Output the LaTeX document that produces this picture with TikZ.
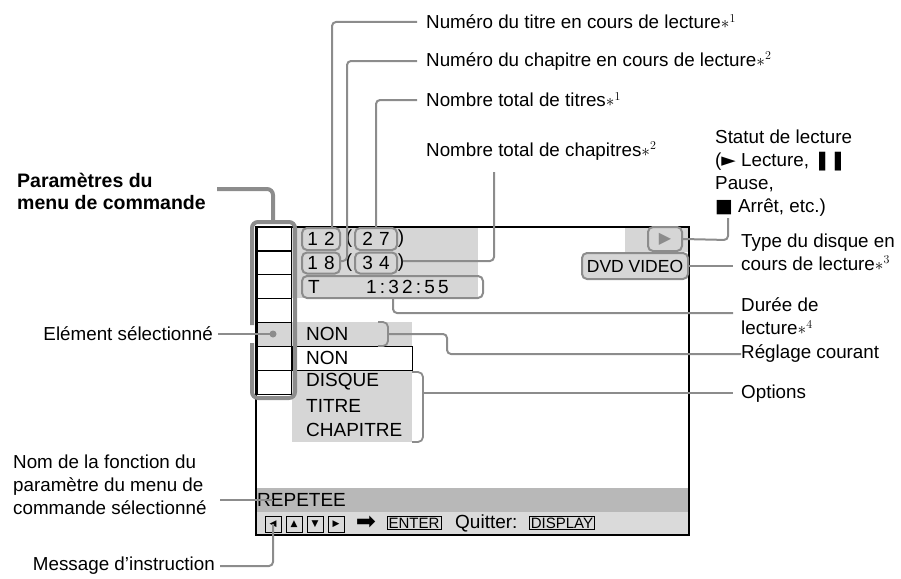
\documentclass[tikz,border=0pt]{standalone}
\usepackage{fontspec}
\setmainfont{Liberation Sans}
\newfontfamily\dejavu{DejaVu Sans}
\begin{document}
\begin{tikzpicture}[x=1pt,y=-1pt,
  lbl/.style={font=\fontsize{18.8}{23}\selectfont,inner sep=0pt},
  scr/.style={font=\fontsize{19}{22}\selectfont,inner sep=0pt},
  conn/.style={draw=lg,line width=2pt,rounded corners=4pt},
  gbox/.style={draw=lg,line width=2pt,rounded corners=5pt,inner sep=0pt},
  kbox/.style={draw=black,line width=0.8pt,inner sep=1.5pt,font=\fontsize{15}{16}\selectfont}]
\definecolor{lg}{HTML}{8C8C8C}
\definecolor{fillg}{HTML}{D6D6D6}
\definecolor{bard}{HTML}{B8B8B8}
\definecolor{barl}{HTML}{DADADA}
\useasboundingbox (0,0) rectangle (901,578);
% screen fills
\fill[fillg] (292,227) rectangle (478,298);
\fill[fillg] (625,227) rectangle (688,252);
\fill[fillg] (258,322) rectangle (412,346);
\fill[fillg] (292,370) rectangle (412,442);
\fill[bard] (257,488) rectangle (689,512);
\fill[barl] (257,512) rectangle (689,535);
\draw[black,line width=0.9pt] (292,346) rectangle (412,370);
% menu column
\foreach \y in {227,250,274,298,322,346,370}{\draw[black,line width=0.8pt] (257,\y) rectangle (291,\y+24);}
\fill[fillg] (258,323) rectangle (290.5,345.5);
\fill[lg] (273,334) circle (3.5pt);
\node[circle,inner sep=0pt,minimum size=1pt] (dot) at (273,334) {};
% screen border
\draw[black,line width=1.6pt] (256,227) -- (689,227) -- (689,535) -- (256,535) -- cycle;
% bracket
\draw[lg,line width=4pt,rounded corners=6pt] (252,325) -- (252,222) -- (295,222) -- (295,398) -- (252,398) -- (252,343);
\coordinate (brtop) at (273,222);
% numbers
\node[gbox,scr,minimum width=38pt,minimum height=22pt] (n12) at (321,239) {1\,\,2};
\node[scr] at (349,239) {(};
\node[gbox,scr,minimum width=42pt,minimum height=22pt] (n27) at (376,239) {2\,\,7};
\node[scr] at (401,239) {)};
\node[gbox,scr,minimum width=38pt,minimum height=21pt] (n18) at (321,263) {1\,\,8};
\node[scr] at (349,263) {(};
\node[gbox,scr,minimum width=42pt,minimum height=21pt] (n34) at (376,263) {3\,\,4};
\node[scr] at (401,263) {)};
\node[gbox,scr,minimum width=181pt,minimum height=22pt] (tm) at (392.5,287) {};
\node[scr,anchor=west] at (308,287) {T};
\node[scr,anchor=west] (tdig) at (366,287) {1\,:\,3\,2\,:\,5\,5};
\coordinate (t3) at (393,299);
\node[gbox,minimum width=34pt,minimum height=24pt,text=lg,font=\dejavu\fontsize{16}{16}\selectfont] (play) at (665,239) {▶};
\node[gbox,scr,fill=fillg,minimum width=106pt,minimum height=26pt,font=\fontsize{17.5}{20}\selectfont] (dvd) at (635,266) {DVD VIDEO};
% options
\node[scr,anchor=west] (non1) at (306,334) {NON};
\draw[lg,line width=1.8pt,rounded corners=5pt] (378,322) -- (388,322) -- (388,346) -- (378,346);
\coordinate (nonb) at (388,334);
\node[scr,anchor=west] at (306,358) {NON};
\node[scr,anchor=west] at (306,382) {DISQUE};
\node[scr,anchor=west] at (306,406) {TITRE};
\node[scr,anchor=west] at (306,430) {CHAPITRE};
\draw[lg,line width=1.8pt,rounded corners=5pt] (412,372) -- (423,372) -- (423,442) -- (412,442);
\coordinate (optb) at (423,393);
% bottom bar
\node[scr,anchor=west] (rep) at (257,500) {REPETEE};
\coordinate (repc) at (273,500);
\foreach \i/\s in {0/◀,1/▲,2/▼,3/▶}{
  \node[draw=black,line width=0.8pt,minimum width=16pt,minimum height=16pt,inner sep=0pt,font=\dejavu\fontsize{9}{9}\selectfont] (k\i) at (273+21*\i,524) {\s};}
\node[font=\dejavu\fontsize{24}{24}\selectfont,inner sep=0pt] at (366,523) {➡};
\node[kbox] (enter) at (414,523) {ENTER};
\node[scr,anchor=west] at (455,523) {Quitter:};
\node[kbox] (disp) at (562,523) {DISPLAY};
% top labels
\node[lbl,anchor=west] (L1) at (426,22) {Numéro du titre en cours de lecture$\ast^{1}$};
\node[lbl,anchor=west] (L2) at (426,61) {Numéro du chapitre en cours de lecture$\ast^{2}$};
\node[lbl,anchor=west] (L3) at (426,100) {Nombre total de titres$\ast^{1}$};
\node[lbl,anchor=west] (L4) at (426,151) {Nombre total de chapitres$\ast^{2}$};
\coordinate (L4b) at (494,172);
\draw[conn] (L1.west)++(-9,0) -- (332,22) -- (n12.north-|332,0);
\draw[conn] (L2.west)++(-9,0) -- (347,61) -- (347,261) -- (n18.east|-0,261);
\draw[conn] (L3.west)++(-9,0) -- (376,100) -- (n27.north);
\draw[conn] (L4b) -- (494,261) -- (403,261);
% title
\node[font=\bfseries\fontsize{19.5}{22}\selectfont,align=left,anchor=north west,inner sep=0pt] (title) at (17,173) {Paramètres du\\menu de commande};
\draw[lg,line width=4pt,rounded corners=6pt] (217,189) -- (273,189) -- (brtop);
% right labels
\node[lbl,align=left,anchor=north west] (stat) at (715,130) {Statut de lecture\\({\dejavu ►} Lecture, {\dejavu\bfseries ❚❚}\\Pause,\\{\dejavu ■} Arrêt, etc.)};
\coordinate (statb) at (728,218);
\draw[conn] (statb) -- (728,240) -- (play.east);
\node[lbl,align=left,anchor=west] (typ) at (741,252) {Type du disque en\\cours de lecture$\ast^{3}$};
\draw[conn] (dvd.east) -- (733,266);
\node[lbl,align=left,anchor=west] (dur) at (741,316) {Durée de\\lecture$\ast^{4}$};
\draw[conn] (t3) -- (393,313) -- (733,313);
\node[lbl,anchor=west] (reg) at (741,354) {Réglage courant};
\draw[conn] (nonb) -- (447,334) -- (447,354) -- (reg.west)++(-8,0);
\node[lbl,anchor=west] (opt) at (741,394) {Options};
\draw[conn] (optb) -- (733,393);
% left labels
\node[lbl,anchor=east] (sel) at (213,334) {Elément sélectionné};
\draw[conn] (sel.east)++(5,0) -- (dot);
\node[lbl,align=left,anchor=west] (nom) at (13,485) {Nom de la fonction du\\paramètre du menu de\\commande sélectionné};
\draw[conn] (220,500) -- (repc);
\node[lbl,anchor=east] (msg) at (215,566) {Message d’instruction};
\draw[conn] (msg.east)++(5,0) -- (273,566) -- (k0.center);
\end{tikzpicture}
\end{document}
